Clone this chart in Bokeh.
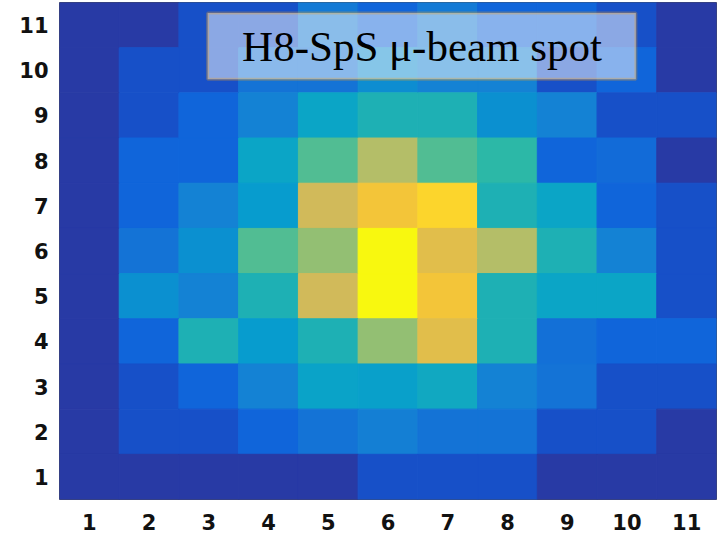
from bokeh.plotting import figure
from bokeh.models import (ColumnDataSource, LinearColorMapper, FixedTicker,
                          BoxAnnotation, Label)
from bokeh.embed import file_html
from bokeh.resources import INLINE

# ---- data: beam-spot intensity per pad, relative units 0..100
# rows listed from the top row (11) down to the bottom row (1)
columns = [1, 2, 3, 4, 5, 6, 7, 8, 9, 10, 11]
rows_top_down = [11, 10, 9, 8, 7, 6, 5, 4, 3, 2, 1]
row11 = [0, 0, 10, 10, 24.5, 17, 24.5, 17, 17, 10, 0]
row10 = [0, 10, 10, 22, 22, 32, 27, 27, 10, 17, 0]
row9 = [0, 10, 17, 27, 41, 48, 48, 33, 27, 10, 10]
row8 = [0, 17, 17, 41, 57, 71, 57, 52, 17, 19.5, 0]
row7 = [0, 17, 27, 37, 76, 86, 91, 48, 41, 17, 10]
row6 = [0, 22, 33, 57, 66, 100, 80, 71, 48, 27, 10]
row5 = [0, 33, 27, 48, 76, 100, 86, 48, 41, 41, 10]
row4 = [0, 17, 48, 37, 48, 66, 80, 48, 21, 17, 17]
row3 = [0, 10, 17, 27, 40, 39, 43, 27, 22, 10, 10]
row2 = [0, 10, 10, 17, 22, 26, 22, 22, 10, 10, 0]
row1 = [0, 0, 0, 0, 0, 10, 10, 10, 0, 0, 0]
tick_labels = ["1", "2", "3", "4", "5", "6", "7", "8", "9", "10", "11"]
title_text = "H8-SpS \u03bc-beam spot"

grid = [row11, row10, row9, row8, row7, row6, row5, row4, row3, row2, row1]

# ---- colour map: parula-like anchors (position 0..100, colour), interpolated to 256
cmap_anchors = [
    (0, "#283AA5"), (10, "#1750C9"), (17, "#1065DA"), (22, "#1473D6"),
    (27, "#1482D4"), (33, "#0B90D0"), (37, "#079CCE"), (41, "#0BA5C6"),
    (48, "#1EB0B4"), (52, "#2BB8A8"), (57, "#52BD92"), (66, "#94BF73"),
    (71, "#B4BE68"), (76, "#D1BA5A"), (80, "#E1BE4B"), (86, "#F2C43A"),
    (91, "#FCD52C"), (100, "#F8F80F"),
]


def _hex_to_rgb(h):
    return tuple(int(h[i:i + 2], 16) for i in (1, 3, 5))


def _interp_palette(anchors, n):
    pos = [a[0] for a in anchors]
    rgb = [_hex_to_rgb(a[1]) for a in anchors]
    lo, hi = pos[0], pos[-1]
    out = []
    for k in range(n):
        t = lo + (hi - lo) * k / (n - 1)
        i = 0
        while i < len(pos) - 2 and t > pos[i + 1]:
            i += 1
        f = (t - pos[i]) / (pos[i + 1] - pos[i])
        f = min(max(f, 0.0), 1.0)
        c = [round(rgb[i][j] + (rgb[i + 1][j] - rgb[i][j]) * f) for j in range(3)]
        out.append("#%02x%02x%02x" % tuple(c))
    return out


palette = _interp_palette(cmap_anchors, 256)

xs, ys, vals = [], [], []
for r, row in zip(rows_top_down, grid):
    for c, v in zip(columns, row):
        xs.append(c)
        ys.append(r)
        vals.append(v)

source = ColumnDataSource(data=dict(x=xs, y=ys, v=vals))
mapper = LinearColorMapper(palette=palette, low=0, high=100)

p = figure(
    output_backend="svg",
    toolbar_location=None,
    x_range=(0.5, 11.5),
    y_range=(0.5, 11.5),
    frame_width=657,
    frame_height=497,
    min_border_left=59,
    min_border_right=2,
    min_border_top=2,
    min_border_bottom=35,
    background_fill_color="white",
    border_fill_color="white",
)

cell_color = {"field": "v", "transform": mapper}
p.rect(x="x", y="y", width=1, height=1, source=source,
       fill_color=cell_color, line_color=cell_color, line_width=1)

p.grid.visible = False
p.outline_line_color = "#4d4d4d"
p.outline_line_width = 1

for ax in (p.xaxis[0], p.yaxis[0]):
    ax.ticker = FixedTicker(ticks=columns)
    ax.major_label_overrides = {c: t for c, t in zip(columns, tick_labels)}
    ax.major_label_text_font = "DejaVu Sans"
    ax.major_label_text_font_style = "bold"
    ax.major_label_text_font_size = "21px"
    ax.major_label_text_color = "#111111"
    ax.axis_line_color = None
    ax.major_tick_line_color = None
    ax.minor_tick_line_color = None

p.xaxis[0].major_label_standoff = 8
p.yaxis[0].major_label_standoff = 5

box = BoxAnnotation(left=2.98, right=10.15, bottom=9.8, top=11.27,
                    fill_color="white", fill_alpha=0.5,
                    line_color="#F7A21B", line_width=3)
p.add_layout(box)

label = Label(x=6.57, y=10.52, text=title_text,
              text_font="Liberation Serif", text_font_size="43px",
              text_color="black", text_align="center", text_baseline="middle")
p.add_layout(label)

open("out.html", "w").write(file_html(p, INLINE))
